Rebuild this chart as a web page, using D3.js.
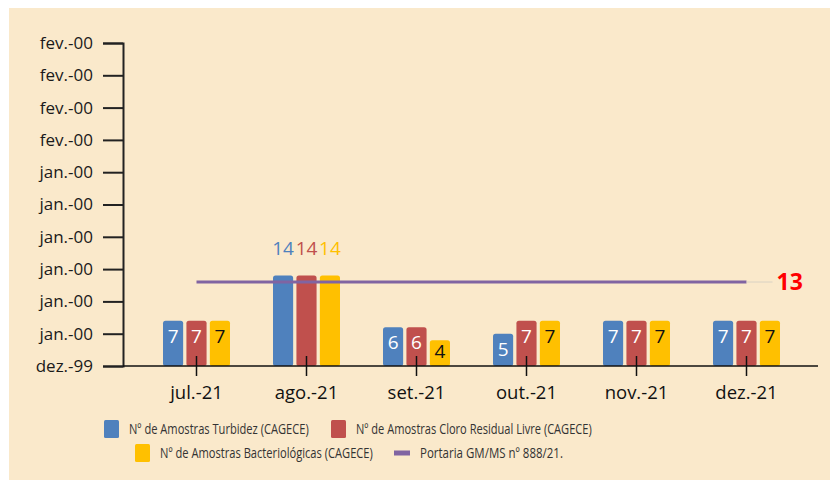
<!DOCTYPE html>
<html>
<head>
<meta charset="utf-8">
<script src="https://cdn.jsdelivr.net/npm/d3@7"></script>
<style>
  body { margin: 0; background: #fff; }
  text { font-family: "Open Sans", sans-serif; }
</style>
</head>
<body>
<div id="graph1"></div>
<script>
let width = 831,
    height = 481;

// data
let months = ["jul.-21", "ago.-21", "set.-21", "out.-21", "nov.-21", "dez.-21"];
let turbidez = [7, 14, 6, 5, 7, 7];
let cloro = [7, 14, 6, 7, 7, 7];
let bacterio = [7, 14, 4, 7, 7, 7];
let portaria = 13;
let yTicks = [0, 5, 10, 15, 20, 25, 30, 35, 40, 45, 50];
let yTickLabels = ["dez.-99", "jan.-00", "jan.-00", "jan.-00", "jan.-00", "jan.-00",
    "jan.-00", "fev.-00", "fev.-00", "fev.-00", "fev.-00"];
let seriesNames = ["Nº de Amostras Turbidez (CAGECE)", "Nº de Amostras Cloro Residual Livre (CAGECE)",
    "Nº de Amostras Bacteriológicas (CAGECE)"];
let lineName = "Portaria GM/MS nº 888/21.";

let colors = ["#4F81BD", "#C0504D", "#FFC000"];
let labelColors = ["#ffffff", "#ffffff", "#111111"];
let lineColor = "#8064A2";

let series = [turbidez, cloro, bacterio];

let svg = d3.select("#graph1")
    .append("svg")
    .attr("width", width)
    .attr("height", height);

svg.append("rect")
    .attr("x", 9).attr("y", 8)
    .attr("width", 821).attr("height", 472)
    .attr("fill", "#FAE9CB");

let x = d3.scaleBand()
    .domain(months)
    .range([141.5, 801.5]);

let y = d3.scaleLinear()
    .domain([0, 50])
    .range([366, 43]);

let inner = d3.scaleBand()
    .domain([0, 1, 2])
    .range([-33.5, 33.5])
    .paddingInner(0.14);

// y axis
let yAxis = svg.append("g")
    .attr("transform", "translate(123,0)")
    .call(d3.axisLeft(y).tickValues(yTicks).tickSize(20).tickPadding(10)
        .tickFormat((d, i) => yTickLabels[i]));
yAxis.select(".domain").attr("stroke", "#222").attr("stroke-width", 2);
yAxis.selectAll(".tick line").attr("stroke", "#222").attr("stroke-width", 2);
yAxis.selectAll("text").style("font-size", "17px").attr("fill", "#1a1a1a");

// bars
let groups = svg.selectAll(".grp")
    .data(series)
    .enter()
    .append("g");

groups.each(function (vals, si) {
    let g = d3.select(this);
    g.selectAll("rect")
        .data(vals)
        .enter()
        .append("rect")
        .attr("x", (d, i) => x(months[i]) + x.bandwidth() / 2 + inner(si))
        .attr("y", d => y(d))
        .attr("width", inner.bandwidth())
        .attr("height", d => y(0) - y(d))
        .attr("rx", 2.5)
        .attr("fill", colors[si]);

    g.selectAll("text")
        .data(vals)
        .enter()
        .append("text")
        .attr("x", (d, i) => x(months[i]) + x.bandwidth() / 2 + inner(si) + inner.bandwidth() / 2)
        .attr("y", d => d > portaria ? y(d) - 21 : Math.min(y(d) + 22, y(0) - 8))
        .attr("text-anchor", "middle")
        .style("font-size", "19px")
        .attr("fill", d => d > portaria ? colors[si] : labelColors[si])
        .text(d => d);
});

// x axis
svg.append("line")
    .attr("x1", 123).attr("x2", 818)
    .attr("y1", y(0)).attr("y2", y(0))
    .attr("stroke", "#111").attr("stroke-width", 1.5);

svg.selectAll(".xtick")
    .data(months)
    .enter()
    .append("line")
    .attr("x1", d => x(d) + x.bandwidth() / 2)
    .attr("x2", d => x(d) + x.bandwidth() / 2)
    .attr("y1", y(0) - 10)
    .attr("y2", y(0) + 10)
    .attr("stroke", "#111").attr("stroke-width", 1.5);

svg.selectAll(".xlab")
    .data(months)
    .enter()
    .append("text")
    .attr("x", d => x(d) + x.bandwidth() / 2)
    .attr("y", 399)
    .attr("text-anchor", "middle")
    .style("font-size", "18.5px")
    .attr("fill", "#111")
    .text(d => d);

// reference line
let xFirst = x(months[0]) + x.bandwidth() / 2,
    xLast = x(months[months.length - 1]) + x.bandwidth() / 2;

svg.append("line")
    .attr("x1", xFirst).attr("x2", xLast)
    .attr("y1", y(portaria)).attr("y2", y(portaria))
    .attr("stroke", lineColor).attr("stroke-width", 3);

svg.append("line")
    .attr("x1", xLast).attr("x2", xLast + 26)
    .attr("y1", y(portaria)).attr("y2", y(portaria))
    .attr("stroke", "#d9d2c4").attr("stroke-width", 1);

svg.append("text")
    .attr("x", xLast + 30)
    .attr("y", y(portaria) + 8)
    .style("font-size", "23px")
    .style("font-weight", "bold")
    .attr("fill", "#FF0000")
    .text(portaria);

// legend
let legendItems = [
    { x: 111, y: 429, name: seriesNames[0], color: colors[0], type: "rect", len: 180 },
    { x: 338, y: 429, name: seriesNames[1], color: colors[1], type: "rect", len: 236 },
    { x: 142, y: 453, name: seriesNames[2], color: colors[2], type: "rect", len: 213 },
    { x: 402, y: 453, name: lineName, color: lineColor, type: "line", len: 143 }
];

let legend = svg.selectAll(".leg")
    .data(legendItems)
    .enter()
    .append("g")
    .attr("transform", d => `translate(${d.x}, ${d.y})`);

legend.filter(d => d.type == "rect")
    .append("rect")
    .attr("x", -7).attr("y", -9)
    .attr("width", 15).attr("height", 18)
    .attr("rx", 1.5)
    .attr("fill", d => d.color);

legend.filter(d => d.type == "line")
    .append("rect")
    .attr("x", -8).attr("y", -2.5)
    .attr("width", 16).attr("height", 5)
    .attr("fill", d => d.color);

// condensed look: squeeze each label to the width it has in the picture
legend.append("text")
    .attr("y", 5)
    .style("font-size", "15px")
    .attr("fill", "#333")
    .text(d => d.name)
    .attr("transform", function (d) {
        let sx = d.len / this.getComputedTextLength();
        return `translate(18,0) scale(${sx},1)`;
    });
</script>
</body>
</html>
